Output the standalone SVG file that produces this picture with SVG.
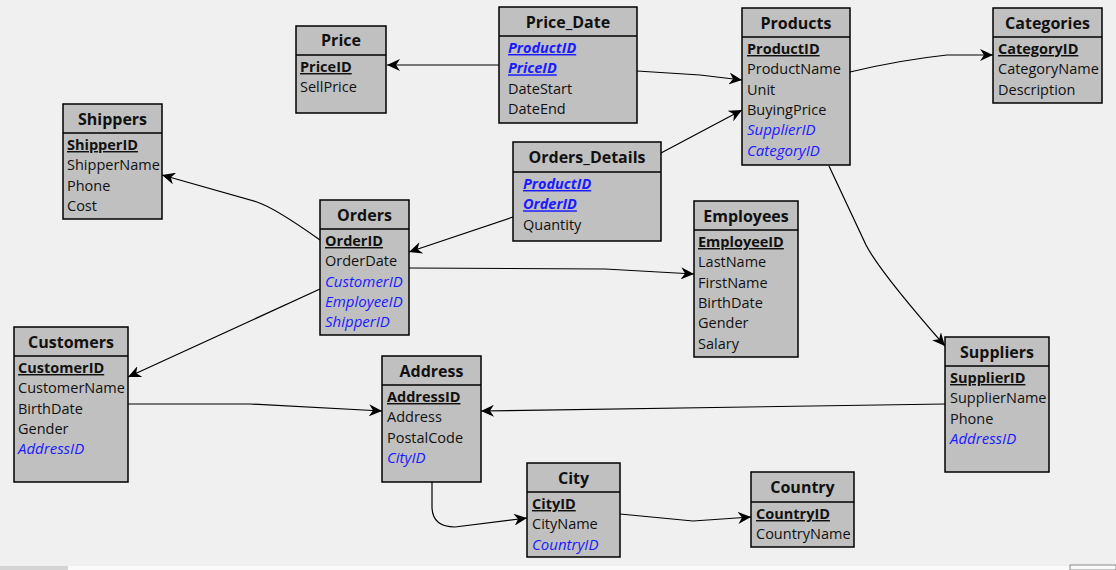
<svg xmlns="http://www.w3.org/2000/svg" width="1116" height="570" viewBox="0 0 1116 570">
<style>
.box{fill:#c0c0c0;stroke:#000;stroke-width:1.5}
.sep{stroke:#000;stroke-width:1.5}
.t{font-family:"Open Sans","Noto Sans","Liberation Sans",sans-serif;font-size:16px;font-weight:bold;fill:#111;text-anchor:middle}
.f{font-family:"Open Sans","Noto Sans","Liberation Sans",sans-serif;font-size:14.5px;fill:#111}
.pk{font-weight:bold;text-decoration:underline}
.fk{fill:#1a1aff;font-style:italic;font-size:15px}
.pfk{fill:#1a1aff;font-style:italic;font-weight:bold;text-decoration:underline}
.c{fill:none;stroke:#000;stroke-width:1.2}
</style>
<defs>
<marker id="ar" markerWidth="14" markerHeight="12" refX="13" refY="6" orient="auto" markerUnits="userSpaceOnUse">
<path d="M0,0 L13,6 L0,12 L4,6 z" fill="#000"/>
</marker>
</defs>
<rect width="1116" height="570" fill="#f0f0f0"/>
<rect x="0" y="566" width="1116" height="4" fill="#fafafa"/>
<rect x="0" y="566" width="68" height="4" fill="#d4d4d4"/>
<rect x="1070" y="565" width="46" height="5" fill="#fafafa" stroke="#888" stroke-width="1"/>

<g id="connectors">
<path class="c" d="M499,65 L387,65" marker-end="url(#ar)"/>
<path class="c" d="M637,71 L700,75 L742,80" marker-end="url(#ar)"/>
<path class="c" d="M661,153 L742,110" marker-end="url(#ar)"/>
<path class="c" d="M850,72 Q900,60 947,55 L993,55" marker-end="url(#ar)"/>
<path class="c" d="M829,166 L866,245 Q880,272 945,346" marker-end="url(#ar)"/>
<path class="c" d="M320,240 Q275,208 257,202 L162,175" marker-end="url(#ar)"/>
<path class="c" d="M513,217 L409,252" marker-end="url(#ar)"/>
<path class="c" d="M409,268 L605,269 L694,274" marker-end="url(#ar)"/>
<path class="c" d="M320,289 L128,377" marker-end="url(#ar)"/>
<path class="c" d="M128,404 L250,404 L382,411" marker-end="url(#ar)"/>
<path class="c" d="M945,404 L481,411" marker-end="url(#ar)"/>
<path class="c" d="M432,482 L432,508 Q433,527 455,527 L527,518" marker-end="url(#ar)"/>
<path class="c" d="M620,514 L693,521 L751,517" marker-end="url(#ar)"/>
</g>

<g id="Price">
<rect class="box" x="296" y="26" width="90" height="87"/>
<line class="sep" x1="296" y1="55" x2="386" y2="55"/>
<text class="t" x="341" y="46">Price</text>
<text class="f" x="300" y="72"><tspan class="pk">PriceID</tspan></text>
<text class="f" x="300" y="92.3">SellPrice</text>
</g>

<g id="Price_Date">
<rect class="box" x="499" y="7" width="138" height="116"/>
<line class="sep" x1="499" y1="36" x2="637" y2="36"/>
<text class="t" x="568" y="27.5">Price_Date</text>
<text class="f" x="508" y="53"><tspan class="pfk">ProductID</tspan></text>
<text class="f" x="508" y="73.3"><tspan class="pfk">PriceID</tspan></text>
<text class="f" x="508" y="93.6">DateStart</text>
<text class="f" x="508" y="113.9">DateEnd</text>
</g>

<g id="Products">
<rect class="box" x="742" y="8" width="108" height="157"/>
<line class="sep" x1="742" y1="37" x2="850" y2="37"/>
<text class="t" x="796" y="28.5">Products</text>
<text class="f" x="747" y="54"><tspan class="pk">ProductID</tspan></text>
<text class="f" x="747" y="74.3">ProductName</text>
<text class="f" x="747" y="94.6">Unit</text>
<text class="f" x="747" y="114.9">BuyingPrice</text>
<text class="f" x="747" y="135.2"><tspan class="fk">SupplierID</tspan></text>
<text class="f" x="747" y="155.5"><tspan class="fk">CategoryID</tspan></text>
</g>

<g id="Categories">
<rect class="box" x="993" y="8" width="109" height="95"/>
<line class="sep" x1="993" y1="37" x2="1102" y2="37"/>
<text class="t" x="1047.5" y="28.5">Categories</text>
<text class="f" x="998" y="54"><tspan class="pk">CategoryID</tspan></text>
<text class="f" x="998" y="74.3">CategoryName</text>
<text class="f" x="998" y="94.6">Description</text>
</g>

<g id="Shippers">
<rect class="box" x="63" y="104" width="99" height="115"/>
<line class="sep" x1="63" y1="133" x2="162" y2="133"/>
<text class="t" x="112.5" y="124.5">Shippers</text>
<text class="f" x="67" y="150"><tspan class="pk">ShipperID</tspan></text>
<text class="f" x="67" y="170.3">ShipperName</text>
<text class="f" x="67" y="190.6">Phone</text>
<text class="f" x="67" y="210.9">Cost</text>
</g>

<g id="Orders">
<rect class="box" x="320" y="200" width="89" height="135"/>
<line class="sep" x1="320" y1="229" x2="409" y2="229"/>
<text class="t" x="364.5" y="220.5">Orders</text>
<text class="f" x="325" y="246"><tspan class="pk">OrderID</tspan></text>
<text class="f" x="325" y="266.3">OrderDate</text>
<text class="f" x="325" y="286.6"><tspan class="fk">CustomerID</tspan></text>
<text class="f" x="325" y="306.9"><tspan class="fk">EmployeeID</tspan></text>
<text class="f" x="325" y="327.2"><tspan class="fk">ShipperID</tspan></text>
</g>

<g id="Orders_Details">
<rect class="box" x="513" y="142" width="148" height="99"/>
<line class="sep" x1="513" y1="172" x2="661" y2="172"/>
<text class="t" x="587" y="163">Orders_Details</text>
<text class="f" x="523" y="189"><tspan class="pfk">ProductID</tspan></text>
<text class="f" x="523" y="209.3"><tspan class="pfk">OrderID</tspan></text>
<text class="f" x="523" y="229.6">Quantity</text>
</g>

<g id="Employees">
<rect class="box" x="694" y="201" width="104" height="156"/>
<line class="sep" x1="694" y1="230" x2="798" y2="230"/>
<text class="t" x="746" y="221.5">Employees</text>
<text class="f" x="698" y="247"><tspan class="pk">EmployeeID</tspan></text>
<text class="f" x="698" y="267.3">LastName</text>
<text class="f" x="698" y="287.6">FirstName</text>
<text class="f" x="698" y="307.9">BirthDate</text>
<text class="f" x="698" y="328.2">Gender</text>
<text class="f" x="698" y="348.5">Salary</text>
</g>

<g id="Customers">
<rect class="box" x="14" y="327" width="114" height="155"/>
<line class="sep" x1="14" y1="356" x2="128" y2="356"/>
<text class="t" x="71" y="347.5">Customers</text>
<text class="f" x="18" y="373"><tspan class="pk">CustomerID</tspan></text>
<text class="f" x="18" y="393.3">CustomerName</text>
<text class="f" x="18" y="413.6">BirthDate</text>
<text class="f" x="18" y="433.9">Gender</text>
<text class="f" x="18" y="454.2"><tspan class="fk">AddressID</tspan></text>
</g>

<g id="Address">
<rect class="box" x="382" y="356" width="99" height="126"/>
<line class="sep" x1="382" y1="385" x2="481" y2="385"/>
<text class="t" x="431.5" y="376.5">Address</text>
<text class="f" x="387" y="402"><tspan class="pk">AddressID</tspan></text>
<text class="f" x="387" y="422.3">Address</text>
<text class="f" x="387" y="442.6">PostalCode</text>
<text class="f" x="387" y="462.9"><tspan class="fk">CityID</tspan></text>
</g>

<g id="Suppliers">
<rect class="box" x="945" y="337" width="104" height="135"/>
<line class="sep" x1="945" y1="366" x2="1049" y2="366"/>
<text class="t" x="997" y="357.5">Suppliers</text>
<text class="f" x="950" y="383"><tspan class="pk">SupplierID</tspan></text>
<text class="f" x="950" y="403.3">SupplierName</text>
<text class="f" x="950" y="423.6">Phone</text>
<text class="f" x="950" y="443.9"><tspan class="fk">AddressID</tspan></text>
</g>

<g id="City">
<rect class="box" x="527" y="463" width="93" height="94"/>
<line class="sep" x1="527" y1="492" x2="620" y2="492"/>
<text class="t" x="573.5" y="483.5">City</text>
<text class="f" x="532" y="509"><tspan class="pk">CityID</tspan></text>
<text class="f" x="532" y="529.3">CityName</text>
<text class="f" x="532" y="549.6"><tspan class="fk">CountryID</tspan></text>
</g>

<g id="Country">
<rect class="box" x="751" y="472" width="103" height="75"/>
<line class="sep" x1="751" y1="502" x2="854" y2="502"/>
<text class="t" x="802.5" y="493">Country</text>
<text class="f" x="756" y="519"><tspan class="pk">CountryID</tspan></text>
<text class="f" x="756" y="539.3">CountryName</text>
</g>
</svg>
